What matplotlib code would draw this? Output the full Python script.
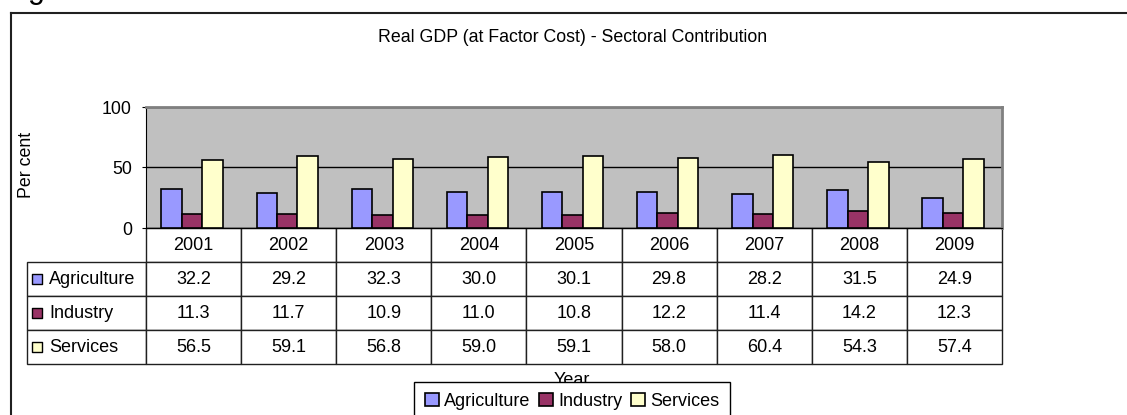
# Real GDP (at factor cost) - sectoral contribution, bar chart with data table below
import matplotlib
matplotlib.use('Agg')
import matplotlib.pyplot as plt
from matplotlib.lines import Line2D
import numpy as np

plt.rcParams['font.family'] = ['Liberation Sans', 'DejaVu Sans']

years = ['2001', '2002', '2003', '2004', '2005', '2006', '2007', '2008', '2009']
sectors = ['Agriculture', 'Industry', 'Services']
agriculture = [32.2, 29.2, 32.3, 30.0, 30.1, 29.8, 28.2, 31.5, 24.9]
industry = [11.3, 11.7, 10.9, 11.0, 10.8, 12.2, 11.4, 14.2, 12.3]
services = [56.5, 59.1, 56.8, 59.0, 59.1, 58.0, 60.4, 54.3, 57.4]
colors = ['#9999FF', '#993366', '#FFFFCC']

W, H = 1127, 415
fs = 13

fig = plt.figure(figsize=(W / 100, H / 100), dpi=100)
ax = fig.add_axes([146 / W, 1 - 228 / H, 856 / W, 121 / H])
ax.set_facecolor('#C0C0C0')

x = np.arange(len(years))
bw = 0.215
handles = []
for i, (vals, c) in enumerate(zip([agriculture, industry, services], colors)):
    b = ax.bar(x + (i - 1) * bw - 0.015, vals, width=bw, color=c, edgecolor='black',
               linewidth=1.2, zorder=3, label=sectors[i])
    handles.append(b)

ax.set_xlim(-0.5, len(years) - 0.5)
ax.set_ylim(0, 100)
ax.set_yticks([0, 50, 100])
ax.set_xticks([])
ax.tick_params(axis='y', length=3.1, pad=7, labelsize=12.8, color='black')
ax.yaxis.grid(True, color='black', linewidth=1)
ax.set_axisbelow(True)
ax.spines['left'].set_color('black')
ax.spines['bottom'].set_color('black')
ax.spines['top'].set_color('#808080')
ax.spines['right'].set_color('#808080')
ax.spines['top'].set_linewidth(2)
ax.spines['right'].set_linewidth(2)

ax.text((26.5 - 146) / 856, (228 - 165) / 121, 'Per cent', rotation=90, ha='center',
        va='center', fontsize=12.8, transform=ax.transAxes)

# data table
label_w = 119 / 856
tbl_h = 136 / 121
cell_text = [[name] + [f'{v:.1f}' for v in vals]
             for name, vals in zip(sectors, [agriculture, industry, services])]
tbl = ax.table(cellText=cell_text, colLabels=[''] + years,
               colWidths=[label_w] + [1 / len(years)] * len(years),
               cellLoc='center', bbox=[-label_w, -tbl_h, 1 + label_w, tbl_h])
tbl.auto_set_font_size(False)
tbl.set_fontsize(fs)
for (r, c), cell in tbl.get_celld().items():
    cell.set_edgecolor('#202020')
    cell.set_linewidth(1.0)
    if r == 0 and c == 0:
        cell.visible_edges = ''
    elif c == 0:
        cell._loc = 'left'
        cell.PAD = 0.185
        cell.get_text().set_ha('left')

row_h = tbl_h / 4
for i, c in enumerate(colors):
    ax.scatter([(36.5 - 146) / 856], [-(i + 1.5) * row_h], marker='s', s=62,
               color=c, edgecolor='black', linewidth=1.0, transform=ax.transAxes,
               clip_on=False, zorder=20)

ax.text(0.498, (228 - 372) / 121, 'Year', ha='center', va='top', fontsize=fs,
        transform=ax.transAxes, zorder=2)

leg = ax.legend(handles, sectors, loc='upper center', ncol=3,
                bbox_to_anchor=(0.498, (228 - 382) / 121), bbox_transform=ax.transAxes,
                fontsize=fs, frameon=True, fancybox=False, framealpha=1,
                edgecolor='black', borderpad=0.6, handlelength=0.75, handleheight=0.75,
                handletextpad=0.3, columnspacing=0.5, borderaxespad=0)
leg.get_frame().set_linewidth(1.0)
leg.set_zorder(30)

fig.text(573 / W, 1 - 37 / H, 'Real GDP (at Factor Cost) - Sectoral Contribution',
         ha='center', va='center', fontsize=12.8)

# outer chart frame and the clipped heading letter above it
fig.add_artist(Line2D([11 / W, 11 / W], [0, 1 - 13 / H], color='#202020', lw=1.5,
                      transform=fig.transFigure))
fig.add_artist(Line2D([11 / W, 1], [1 - 13 / H, 1 - 13 / H], color='#202020', lw=1.5,
                      transform=fig.transFigure))
fig.text(28 / W, 1 + 2 / H, 'g', fontsize=22, va='baseline', ha='left')

fig.savefig('out.png', dpi=100)
